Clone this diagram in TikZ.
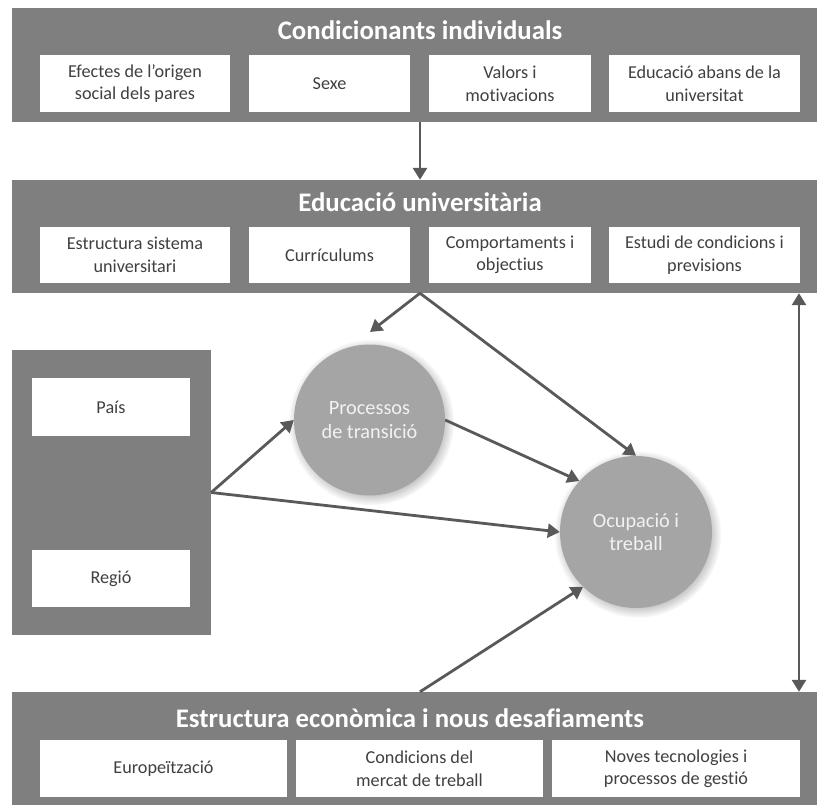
\documentclass[tikz,border=0pt]{standalone}
\usepackage{fontspec}
\setmainfont{Carlito}[RawFeature={-liga;-clig;-dlig;-calt}]
\usetikzlibrary{arrows.meta,shadows}
\definecolor{bandgrey}{HTML}{7F7F7F}
\definecolor{circgrey}{HTML}{A5A5A5}
\definecolor{arrowgrey}{HTML}{595959}
\definecolor{boxtext}{HTML}{404040}
\definecolor{circtext}{HTML}{F2F2F2}

\begin{document}
\begin{tikzpicture}[x=1pt,y=-1pt,
  band/.style={fill=bandgrey, draw=none, inner sep=0pt, minimum width=805pt, minimum height=113pt},
  bandtitle/.style={anchor=base, text=white, inner sep=0pt, font=\fontsize{26.8}{30}\selectfont\bfseries},
  itembox/.style={fill=white, draw=none, inner sep=0pt, align=center, text=boxtext,
                  minimum height=57pt, font=\fontsize{18.2}{22.5}\selectfont},
  bubble/.style={circle, fill=circgrey, draw=none, inner sep=0pt, align=center, text=circtext,
                 font=\fontsize{20.3}{23.5}\selectfont,
                 circular drop shadow={shadow xshift=1.5pt, shadow yshift=-2pt, opacity=0.25, fill=black}},
  link/.style={draw=arrowgrey, line width=2.8pt, -{Triangle[length=12pt,width=14pt]}},
  twoway/.style={draw=arrowgrey, line width=2.8pt, {Triangle[length=12pt,width=14pt]}-{Triangle[length=12pt,width=14pt]}}
]
\useasboundingbox (0,0) rectangle (817,805);

% ---- individual conditions ----
\node[band, minimum height=114pt] (cond) at (414.5,65) {};
\node[bandtitle] (condT) at (420,40) {Condicionants individuals};
\node[itembox, minimum width=190pt] (c1) at (135,83.5) {Efectes de l’origen\\social dels pares};
\node[itembox, minimum width=161pt] (c2) at (329.5,83.5) {Sexe};
\node[itembox, minimum width=162pt] (c3) at (510,83.5) {Valors i\\motivacions};
\node[itembox, minimum width=191pt] (c4) at (704.5,83.5) {Educació abans de la\\universitat};

% ---- university education ----
\node[band] (edu) at (414.5,236.5) {};
\node[bandtitle] (eduT) at (420,212) {Educació universitària};
\node[itembox, minimum width=190pt, minimum height=56pt] (e1) at (135,255) {Estructura sistema\\universitari};
\node[itembox, minimum width=161pt, minimum height=56pt] (e2) at (329.5,255) {Currículums};
\node[itembox, minimum width=162pt, minimum height=56pt] (e3) at (510,255) {Comportaments i\\objectius};
\node[itembox, minimum width=191pt, minimum height=56pt] (e4) at (704.5,255) {Estudi de condicions i\\previsions};

% ---- economic structure ----
\node[band] (econ) at (414.5,748.5) {};
\node[bandtitle] (econT) at (410,727) {Estructura econòmica i nous desafiaments};
\node[itembox, minimum width=247pt] (s1) at (163.5,768.5) {Europeïtzació};
\node[itembox, minimum width=247pt] (s2) at (419.5,768.5) {Condicions del\\mercat de treball};
\node[itembox, minimum width=248pt] (s3) at (676,768.5) {Noves tecnologies i\\processos de gestió};

% ---- territorial context ----
\node[fill=bandgrey, draw=none, inner sep=0pt, minimum width=199pt, minimum height=285pt] (terr) at (111.5,492.5) {};
\node[itembox, minimum width=158pt, minimum height=58pt] (pais) at (111,407) {País};
\node[itembox, minimum width=158pt, minimum height=57pt] (regio) at (111,578.5) {Regió};

% ---- outcome bubbles ----
\node[bubble, minimum size=151pt] (proc) at (369.5,420) {Processos\\de transició};
\node[bubble, minimum size=152pt] (ocup) at (636,532) {Ocupació i\\treball};

% ---- connectors ----
\coordinate (stemx) at (420,0);
\coordinate (sidex) at (799,0);
\coordinate (procin) at (370,332);

\draw[link] (cond.south -| stemx) -- (edu.north -| stemx);
\draw[link] (edu.south -| stemx) -- (procin);
\draw[link] (edu.south -| stemx) -- (ocup.north);
\draw[link] (proc.east) -- (ocup.138);
\draw[link] (terr.east) -- (proc.west);
\draw[link] (terr.east) -- (ocup.west);
\draw[link] (econ.north -| stemx) -- (ocup.226);
\draw[twoway] (edu.south -| sidex) -- (econ.north -| sidex);
\end{tikzpicture}
\end{document}
